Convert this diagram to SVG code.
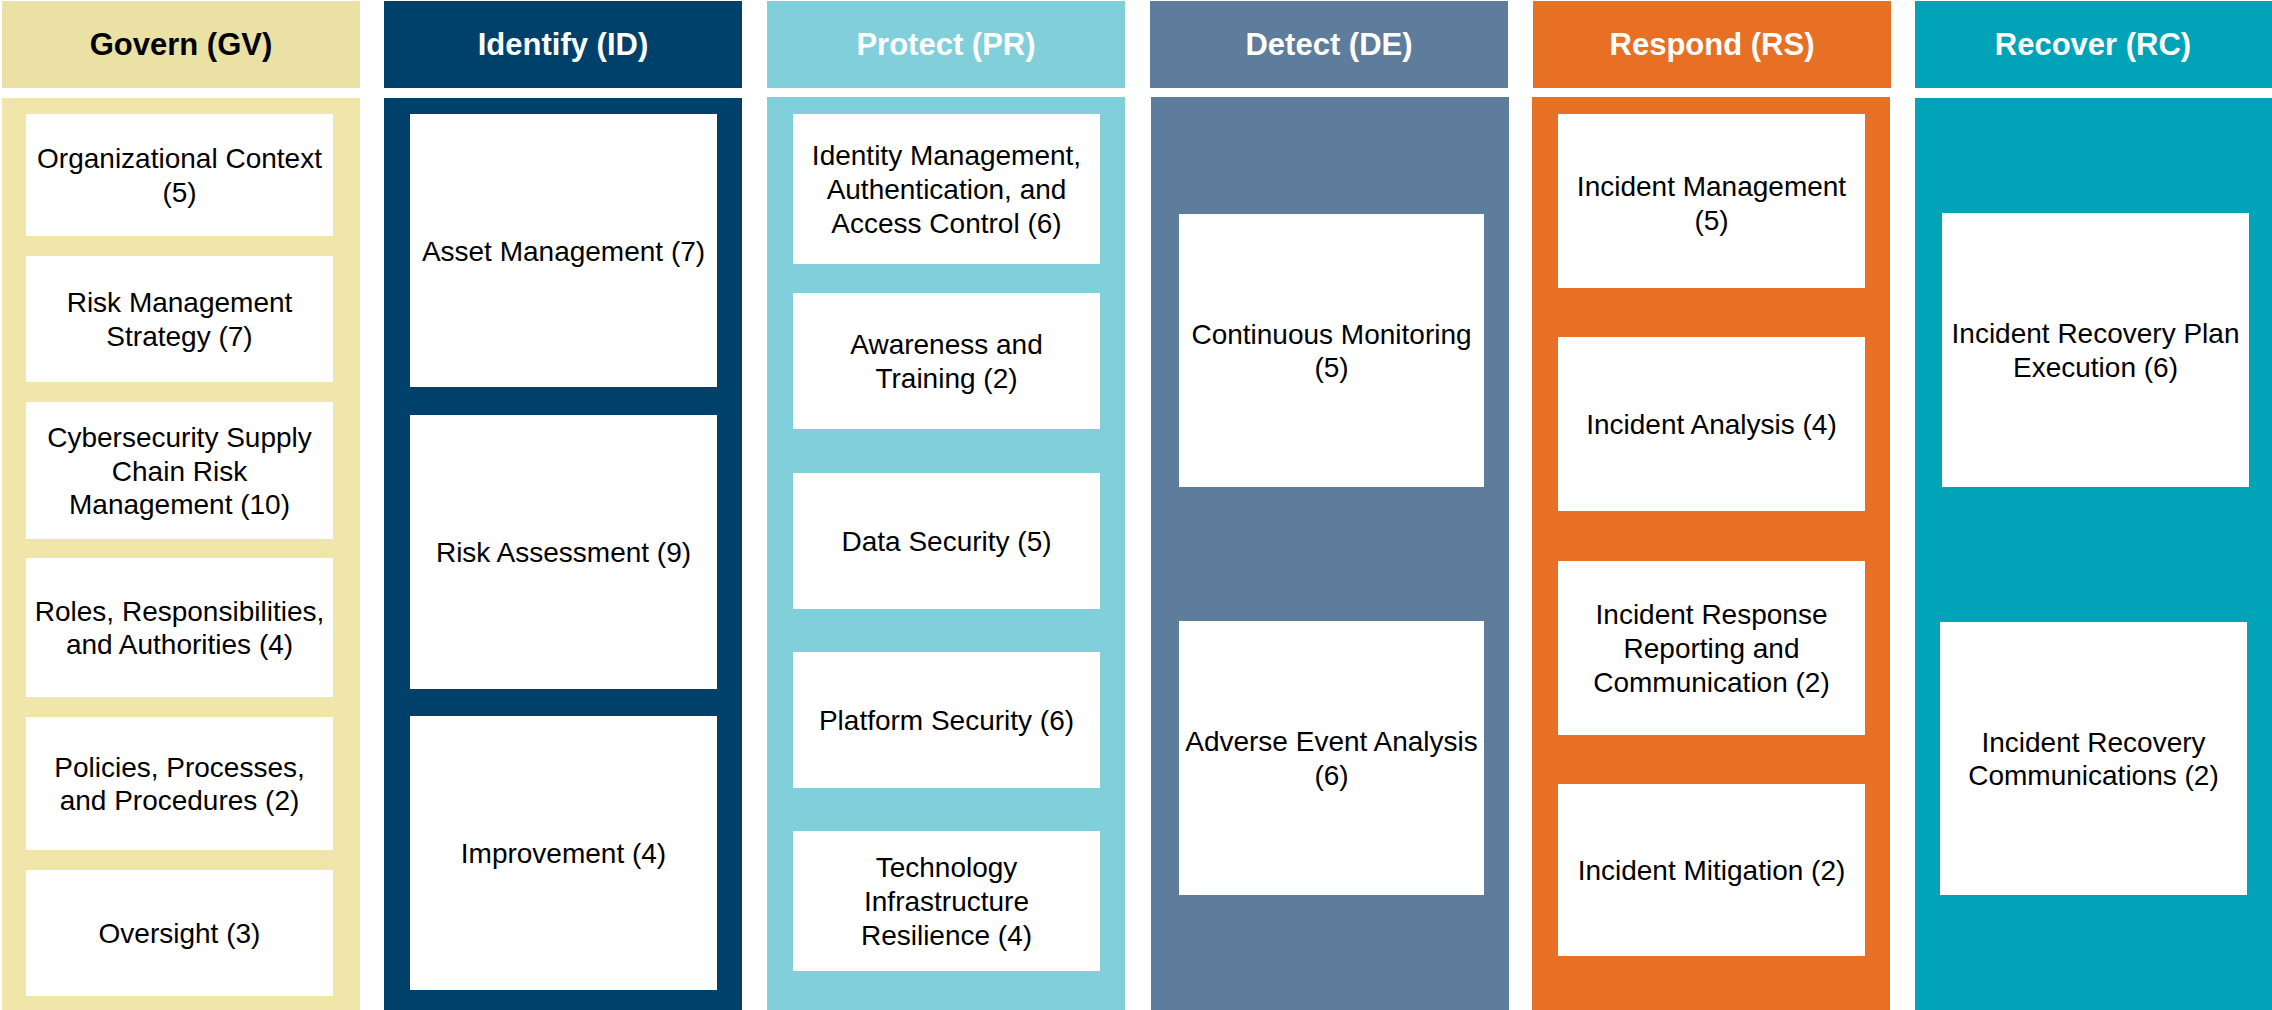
<svg xmlns="http://www.w3.org/2000/svg" width="2272" height="1010" viewBox="0 0 2272 1010">
<style>
.hd{font-family:"Liberation Sans",Arial,sans-serif;font-weight:bold;font-size:31px;text-anchor:middle}
.tx{font-family:"Liberation Sans",Arial,sans-serif;font-size:28px;fill:#000;text-anchor:middle}
.box{fill:#fff}
.w{fill:#fff}
.k{fill:#000}
</style>
<rect width="2272" height="1010" fill="#fff"/>
<g id="col-govern">
<rect x="2" y="1" width="358" height="87" fill="#EBE1A5"/>
<text class="hd k" x="181" y="55">Govern (GV)</text>
<rect x="2" y="98" width="358" height="912" fill="#F1E6AA"/>
<g id="gv-oc"><rect class="box" x="26" y="114" width="307" height="122"/><text class="tx" x="179.5" y="168">Organizational Context</text><text class="tx" x="179.5" y="202">(5)</text></g>
<g id="gv-rm"><rect class="box" x="26" y="256" width="307" height="126"/><text class="tx" x="179.5" y="312">Risk Management</text><text class="tx" x="179.5" y="346">Strategy (7)</text></g>
<g id="gv-sc"><rect class="box" x="26" y="402" width="307" height="137"/><text class="tx" x="179.5" y="447">Cybersecurity Supply</text><text class="tx" x="179.5" y="480.5">Chain Risk</text><text class="tx" x="179.5" y="514">Management (10)</text></g>
<g id="gv-rr"><rect class="box" x="26" y="558" width="307" height="139"/><text class="tx" x="179.5" y="621">Roles, Responsibilities,</text><text class="tx" x="179.5" y="654">and Authorities (4)</text></g>
<g id="gv-po"><rect class="box" x="26" y="717" width="307" height="133"/><text class="tx" x="179.5" y="777">Policies, Processes,</text><text class="tx" x="179.5" y="810">and Procedures (2)</text></g>
<g id="gv-ov"><rect class="box" x="26" y="870" width="307" height="126"/><text class="tx" x="179.5" y="943">Oversight (3)</text></g>
</g>
<g id="col-identify">
<rect x="384" y="1" width="358" height="87" fill="#00416B"/>
<text class="hd w" x="563" y="55">Identify (ID)</text>
<rect x="384" y="98" width="358" height="912" fill="#00416B"/>
<g id="id-am"><rect class="box" x="410" y="114" width="307" height="273"/><text class="tx" x="563.5" y="260.5">Asset Management (7)</text></g>
<g id="id-ra"><rect class="box" x="410" y="415" width="307" height="274"/><text class="tx" x="563.5" y="562">Risk Assessment (9)</text></g>
<g id="id-im"><rect class="box" x="410" y="716" width="307" height="274"/><text class="tx" x="563.5" y="863">Improvement (4)</text></g>
</g>
<g id="col-protect">
<rect x="767" y="1" width="358" height="87" fill="#81CFDA"/>
<text class="hd w" x="946" y="55">Protect (PR)</text>
<rect x="767" y="97" width="358" height="913" fill="#81CFDA"/>
<g id="pr-aa"><rect class="box" x="793" y="114" width="307" height="150"/><text class="tx" x="946.5" y="165.4">Identity Management,</text><text class="tx" x="946.5" y="199">Authentication, and</text><text class="tx" x="946.5" y="232.6">Access Control (6)</text></g>
<g id="pr-at"><rect class="box" x="793" y="293" width="307" height="136"/><text class="tx" x="946.5" y="354">Awareness and</text><text class="tx" x="946.5" y="388">Training (2)</text></g>
<g id="pr-ds"><rect class="box" x="793" y="473" width="307" height="136"/><text class="tx" x="946.5" y="551">Data Security (5)</text></g>
<g id="pr-ps"><rect class="box" x="793" y="652" width="307" height="136"/><text class="tx" x="946.5" y="730">Platform Security (6)</text></g>
<g id="pr-ir"><rect class="box" x="793" y="831" width="307" height="140"/><text class="tx" x="946.5" y="877.4">Technology</text><text class="tx" x="946.5" y="911">Infrastructure</text><text class="tx" x="946.5" y="944.6">Resilience (4)</text></g>
</g>
<g id="col-detect">
<rect x="1150" y="1" width="358" height="87" fill="#5E7C9B"/>
<text class="hd w" x="1329" y="55">Detect (DE)</text>
<rect x="1151" y="97" width="358" height="913" fill="#5E7C9B"/>
<g id="de-cm"><rect class="box" x="1179" y="214" width="305" height="273"/><text class="tx" x="1331.5" y="343.7">Continuous Monitoring</text><text class="tx" x="1331.5" y="377.3">(5)</text></g>
<g id="de-ae"><rect class="box" x="1179" y="621" width="305" height="274"/><text class="tx" x="1331.5" y="751">Adverse Event Analysis</text><text class="tx" x="1331.5" y="785">(6)</text></g>
</g>
<g id="col-respond">
<rect x="1533" y="1" width="358" height="87" fill="#E87025"/>
<text class="hd w" x="1712" y="55">Respond (RS)</text>
<rect x="1532" y="97" width="358" height="913" fill="#E87025"/>
<g id="rs-ma"><rect class="box" x="1558" y="114" width="307" height="174"/><text class="tx" x="1711.5" y="196">Incident Management</text><text class="tx" x="1711.5" y="230">(5)</text></g>
<g id="rs-an"><rect class="box" x="1558" y="337" width="307" height="174"/><text class="tx" x="1711.5" y="434">Incident Analysis (4)</text></g>
<g id="rs-co"><rect class="box" x="1558" y="561" width="307" height="174"/><text class="tx" x="1711.5" y="624.4">Incident Response</text><text class="tx" x="1711.5" y="658">Reporting and</text><text class="tx" x="1711.5" y="691.6">Communication (2)</text></g>
<g id="rs-mi"><rect class="box" x="1558" y="784" width="307" height="172"/><text class="tx" x="1711.5" y="880">Incident Mitigation (2)</text></g>
</g>
<g id="col-recover">
<rect x="1915" y="1" width="357" height="87" fill="#00A3B8"/>
<text class="hd w" x="2093" y="55">Recover (RC)</text>
<rect x="1915" y="98" width="357" height="912" fill="#00A3B8"/>
<g id="rc-rp"><rect class="box" x="1942" y="213" width="307" height="274"/><text class="tx" x="2095.5" y="343">Incident Recovery Plan</text><text class="tx" x="2095.5" y="377">Execution (6)</text></g>
<g id="rc-co"><rect class="box" x="1940" y="622" width="307" height="273"/><text class="tx" x="2093.5" y="751.7">Incident Recovery</text><text class="tx" x="2093.5" y="785.3">Communications (2)</text></g>
</g>
<g id="connectors"></g>
</svg>
